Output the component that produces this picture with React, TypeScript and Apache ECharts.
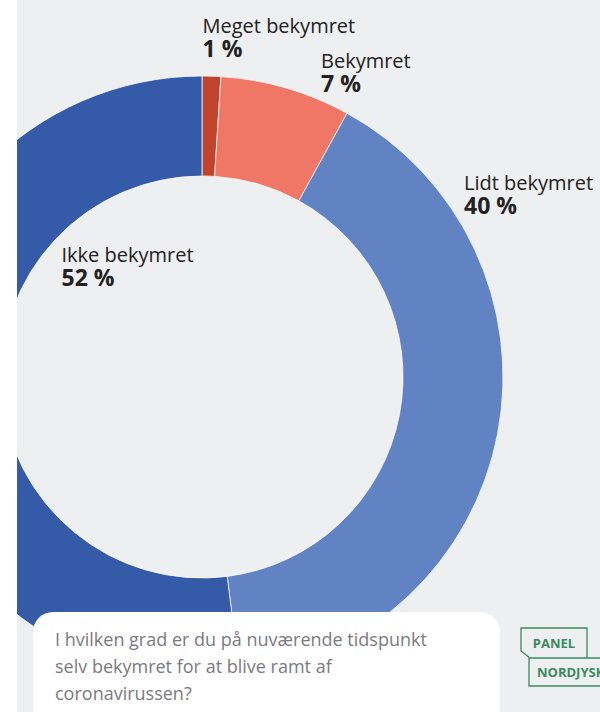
import React, { useEffect, useRef } from "react";
import * as echarts from "echarts";

const categories = ["Meget bekymret", "Bekymret", "Lidt bekymret", "Ikke bekymret"];
const values = [1, 7, 40, 52];
const colors = ["#c0432b", "#f07766", "#6183c4", "#345aa8"];
const labelPos = [
  [185.5, 14],
  [304, 49.5],
  [447, 171.5],
  [44.5, 243],
];
const questionLines = [
  "I hvilken grad er du på nuværende tidspunkt",
  "selv bekymret for at blive ramt af",
  "coronavirussen?",
];
const logoTop = "PANEL";
const logoBottom = "NORDJYSKE";

const FONT = "'Open Sans', sans-serif";
const GREEN = "#3b8a60";

export default function App() {
  const ref = useRef<HTMLDivElement>(null);
  useEffect(() => {
    if (!ref.current) return;
    const chart = echarts.init(ref.current, undefined, { renderer: "svg" });
    chart.setOption({
      animation: false,
      backgroundColor: "#eeeff1",
      series: [
        {
          type: "pie",
          center: [185, 377],
          radius: [201, 301],
          startAngle: 90,
          clockwise: true,
          z: 2,
          itemStyle: { borderColor: "rgba(255,255,255,0.75)", borderWidth: 1 },
          emphasis: { disabled: true },
          labelLine: { show: false },
          label: {
            show: true,
            position: "inside",
            overflow: "none",
            color: "#222",
            formatter: (p: any) => `{n|${p.name}}\n{v|${p.value} %}`,
            rich: {
              n: { fontFamily: FONT, fontSize: 20, lineHeight: 22, color: "#222" },
              v: { fontFamily: FONT, fontSize: 23, fontWeight: "bold", lineHeight: 23, color: "#222" },
            },
          },
          labelLayout: (params: any) => {
            const p = labelPos[params.dataIndex];
            return { x: p[0], y: p[1], align: "left", verticalAlign: "top", hideOverlap: false, moveOverlap: false };
          },
          data: categories.map((c, i) => ({ name: c, value: values[i], itemStyle: { color: colors[i] } })),
        },
      ],
      graphic: [
        {
          type: "rect",
          z: 100,
          shape: { x: 16, y: 612, width: 467, height: 140, r: 20 },
          style: { fill: "#ffffff" },
        },
        {
          type: "text",
          z: 101,
          left: 38,
          top: 625,
          style: {
            text: questionLines.join("\n"),
            font: `18px ${FONT}`,
            lineHeight: 27,
            fill: "#7b7b7f",
          },
        },
        {
          type: "polyline",
          z: 101,
          shape: { points: [[513, 658], [504, 651], [504, 628], [570, 628], [570, 658]] },
          style: { stroke: GREEN, lineWidth: 1.3, fill: "none" },
        },
        {
          type: "polyline",
          z: 101,
          shape: { points: [[600, 658], [512, 658], [512, 686], [600, 686]] },
          style: { stroke: GREEN, lineWidth: 1.3, fill: "none" },
        },
        {
          type: "text",
          z: 102,
          x: 537,
          y: 643,
          style: {
            text: logoTop,
            font: `bold 13px ${FONT}`,
            fill: GREEN,
            align: "center",
            verticalAlign: "middle",
          },
        },
        {
          type: "text",
          z: 102,
          x: 520,
          y: 672,
          style: {
            text: logoBottom,
            font: `bold 13px ${FONT}`,
            fill: GREEN,
            align: "left",
            verticalAlign: "middle",
          },
        },
      ],
    });
    return () => chart.dispose();
  }, []);
  return (
    <div
      ref={ref}
      style={{ position: "absolute", left: 17, top: 0, width: 583, height: 712 }}
    />
  );
}
